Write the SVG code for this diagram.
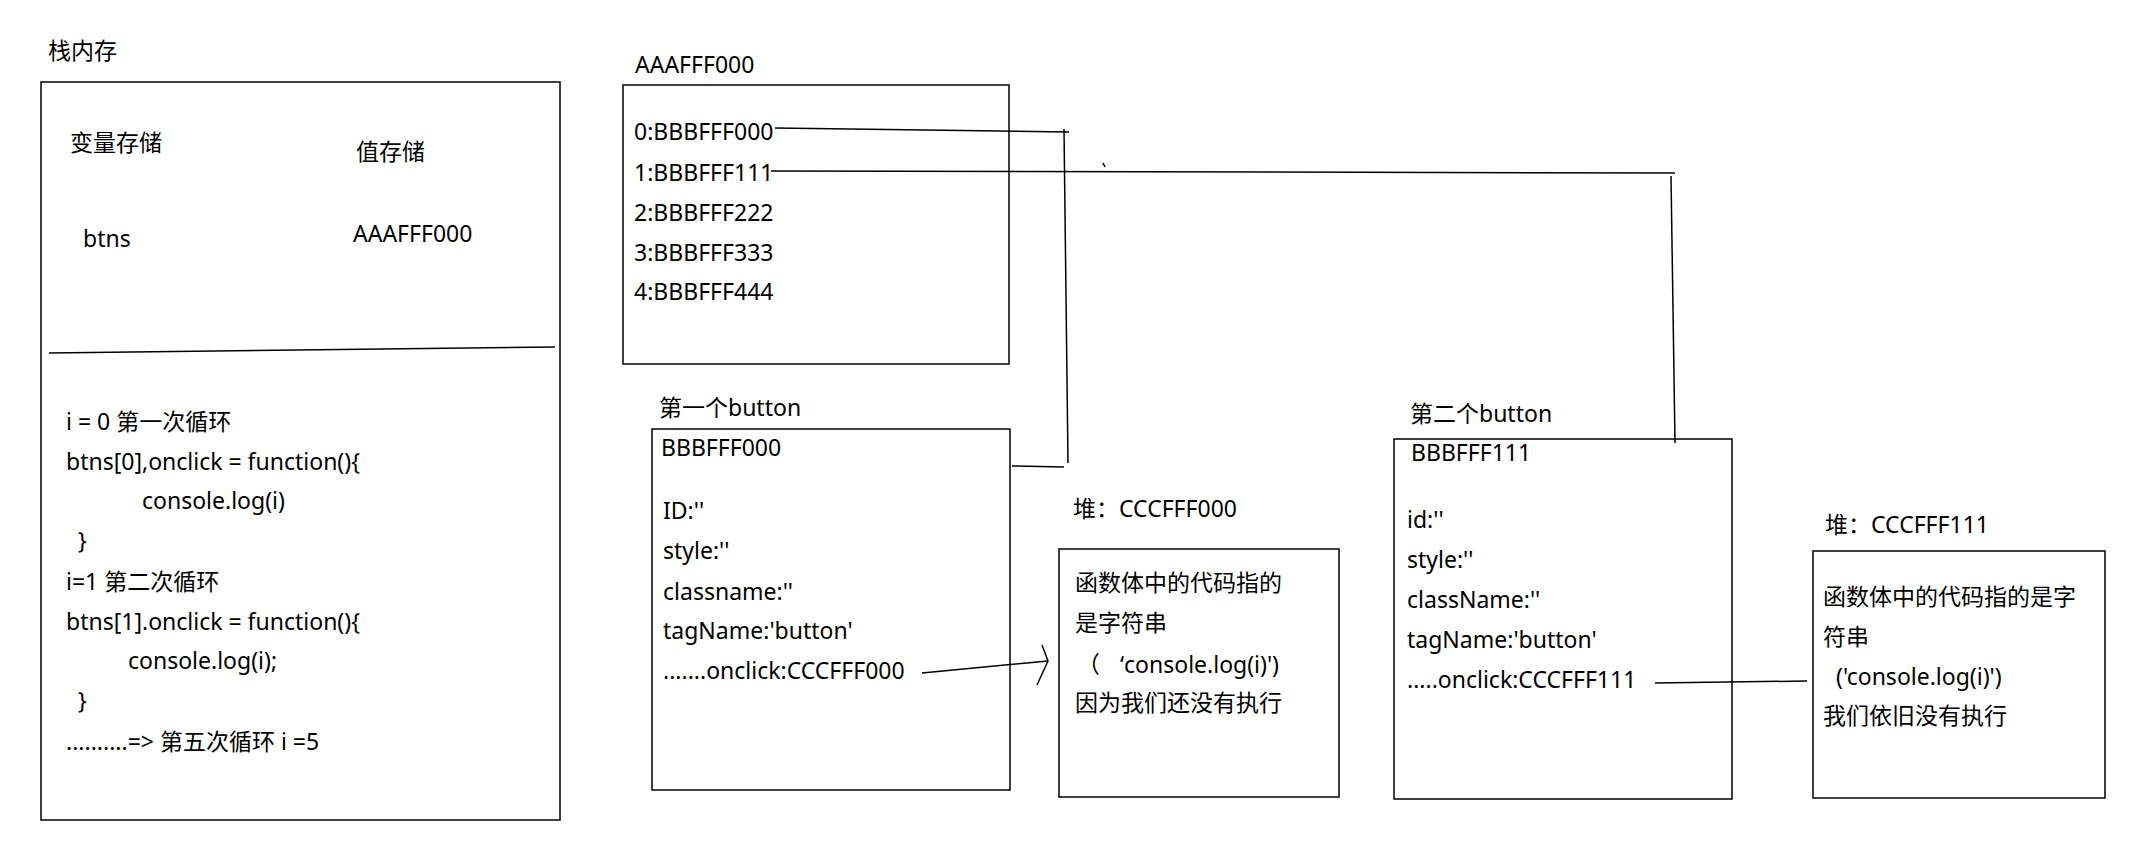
<svg xmlns="http://www.w3.org/2000/svg" width="2143" height="862" viewBox="0 0 2143 862">
<style>
.t{font-family:"Noto Sans","Noto Sans CJK SC",sans-serif;font-size:23px;fill:#000}
.box{fill:#fff;stroke:#000;stroke-width:1.5}
.ln{fill:none;stroke:#000;stroke-width:1.5}
</style>
<rect x="0" y="0" width="2143" height="862" fill="#fff"/>
<g id="stack">
<text class="t" x="48" y="59">栈内存</text>
<rect class="box" x="41" y="82" width="519" height="738"/>
<text class="t" x="70" y="151">变量存储</text>
<text class="t" x="356" y="160">值存储</text>
<text class="t" x="83" y="247">btns</text>
<text class="t" x="353" y="242">AAAFFF000</text>
<path class="ln" d="M49 353 L555 347"/>
<text class="t" x="66" y="430">i = 0 第一次循环</text>
<text class="t" x="66" y="470">btns[0],onclick = function(){</text>
<text class="t" x="142" y="509">console.log(i)</text>
<text class="t" x="78" y="549">}</text>
<text class="t" x="66" y="590">i=1 第二次循环</text>
<text class="t" x="66" y="630">btns[1].onclick = function(){</text>
<text class="t" x="128" y="669">console.log(i);</text>
<text class="t" x="78" y="709">}</text>
<text class="t" x="66" y="750">..........=&gt; 第五次循环 i =5</text>
</g>
<g id="array">
<text class="t" x="635" y="73">AAAFFF000</text>
<rect class="box" x="623" y="85" width="386" height="279"/>
<text class="t" x="634" y="140">0:BBBFFF000</text>
<text class="t" x="634" y="181">1:BBBFFF111</text>
<text class="t" x="634" y="221">2:BBBFFF222</text>
<text class="t" x="634" y="261">3:BBBFFF333</text>
<text class="t" x="634" y="300">4:BBBFFF444</text>
</g>
<g id="button1">
<text class="t" x="659" y="416">第一个button</text>
<rect class="box" x="652" y="429" width="358" height="361"/>
<text class="t" x="661" y="456">BBBFFF000</text>
<text class="t" x="663" y="519">ID:''</text>
<text class="t" x="663" y="559">style:''</text>
<text class="t" x="663" y="600">classname:''</text>
<text class="t" x="663" y="639">tagName:'button'</text>
<text class="t" x="663" y="679">.......onclick:CCCFFF000</text>
</g>
<g id="heap1">
<text class="t" x="1073" y="517">堆：CCCFFF000</text>
<rect class="box" x="1059" y="549" width="280" height="248"/>
<text class="t" x="1075" y="591">函数体中的代码指的</text>
<text class="t" x="1075" y="631">是字符串</text>
<text class="t" x="1077" y="673">（<tspan x="1120">‘console.log(i)')</tspan></text>
<text class="t" x="1075" y="711">因为我们还没有执行</text>
</g>
<g id="button2">
<text class="t" x="1410" y="422">第二个button</text>
<rect class="box" x="1394" y="439" width="338" height="360"/>
<text class="t" x="1411" y="461">BBBFFF111</text>
<text class="t" x="1407" y="528">id:''</text>
<text class="t" x="1407" y="568">style:''</text>
<text class="t" x="1407" y="608">className:''</text>
<text class="t" x="1407" y="648">tagName:'button'</text>
<text class="t" x="1407" y="688">.....onclick:CCCFFF111</text>
</g>
<g id="heap2">
<text class="t" x="1825" y="533">堆：CCCFFF111</text>
<rect class="box" x="1813" y="551" width="292" height="247"/>
<text class="t" x="1823" y="605">函数体中的代码指的是字</text>
<text class="t" x="1823" y="645">符串</text>
<text class="t" x="1836" y="685">('console.log(i)')</text>
<text class="t" x="1823" y="724">我们依旧没有执行</text>
</g>
<g id="connectors">
<path class="ln" d="M775 128 L1069 132 M1064 129 L1068 463 M1064 467 L1012 466"/>
<path class="ln" d="M771 171 L1675 173 M1671 176 L1675 443"/>
<path class="ln" d="M922 673 L1048 661 M1042 645 L1048 661 L1037 685"/>
<path class="ln" d="M1655 683 L1807 681"/>
<path class="ln" d="M1103 163 L1105 167"/>
</g>
</svg>
